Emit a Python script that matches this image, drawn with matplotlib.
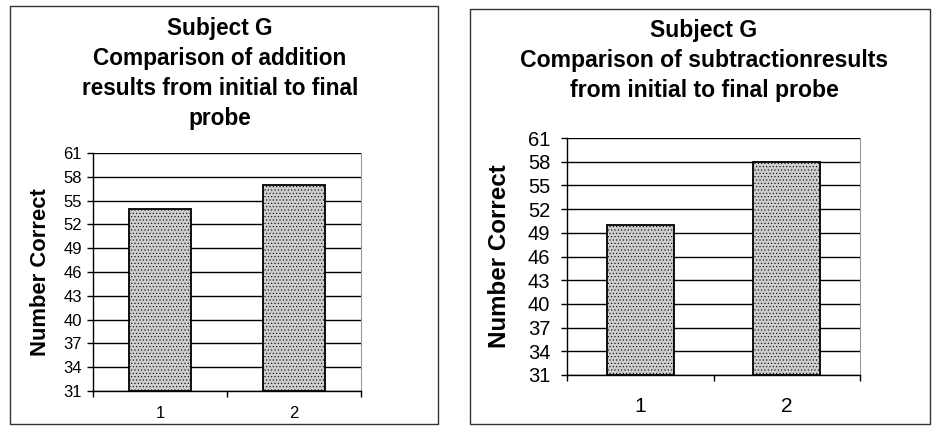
import matplotlib.pyplot as plt
from matplotlib.patches import Rectangle

plt.rcParams['font.family'] = ['Liberation Sans', 'DejaVu Sans']
plt.rcParams['hatch.color'] = '#9a9a9a'
plt.rcParams['hatch.linewidth'] = 0.4

# data
probes = ['1', '2']
addition = [54, 57]
subtraction = [50, 58]
yticks = [31, 34, 37, 40, 43, 46, 49, 52, 55, 58, 61]

W, H = 934, 429
fig = plt.figure(figsize=(W / 100, H / 100), dpi=100)
fig.patch.set_facecolor('white')


def px_axes(x0, y0, x1, y1):
    # pixel box (top-left origin) -> figure axes
    return fig.add_axes([x0 / W, 1 - y1 / H, (x1 - x0) / W, (y1 - y0) / H])


def panel_box(x0, y0, x1, y1):
    fig.add_artist(Rectangle((x0 / W, 1 - y1 / H), (x1 - x0) / W, (y1 - y0) / H,
                             transform=fig.transFigure, fill=False,
                             edgecolor='#333333', lw=1.0))


def draw(ax, values, title, ytick_fs, xtick_fs, xpad, label_fs, title_pos, title_fs, label_x, ypad):
    x = [1, 2]
    ax.set_xlim(0.5, 2.5)
    ax.set_ylim(31, 61)
    ax.set_yticks(yticks)
    ax.yaxis.grid(True, color='black', lw=1.0)
    ax.set_axisbelow(True)
    ax.bar(x, [v - 31 for v in values], bottom=31, width=0.46,
           color='#cdcdcd', edgecolor='black', lw=1.3, hatch='.....', zorder=3)
    ax.set_xticks([0.5, 1.5, 2.5])
    ax.set_xticklabels([])
    ax.set_xticks(x, minor=True)
    ax.set_xticklabels(probes, minor=True, fontsize=xtick_fs)
    ax.tick_params(axis='x', which='minor', length=0, pad=xpad)
    ax.tick_params(axis='x', which='major', length=4, direction='out', width=1)
    ax.tick_params(axis='y', length=4, direction='out', labelsize=ytick_fs, pad=ypad, width=1)
    for s in ['left', 'bottom']:
        ax.spines[s].set_color('black')
        ax.spines[s].set_linewidth(1.0)
    ax.spines['top'].set_visible(False)
    ax.spines['right'].set_color('#999999')
    ax.spines['right'].set_linestyle((0, (2, 1)))
    ax.set_ylabel('Number Correct', fontsize=label_fs, fontweight='bold')
    ax.yaxis.set_label_coords(label_x, 0.5)
    fig.text(title_pos[0] / W, 1 - title_pos[1] / H, title, ha='center', va='top',
             fontsize=title_fs, fontweight='bold', linespacing=1.38)


panel_box(10, 6, 438, 424)
panel_box(470, 9, 930, 424)

ax1 = px_axes(93, 153, 361, 391)
draw(ax1, addition,
     'Subject G\nComparison of addition\nresults from initial to final\nprobe',
     12, 12, 11, 15.8, (220, 17), 16.3, -0.157, 4)

ax2 = px_axes(567, 138, 860, 375)
draw(ax2, subtraction,
     'Subject G\nComparison of subtractionresults\nfrom initial to final probe',
     14.5, 15, 16, 17.4, (704, 19), 16.6, -0.19, 8)

fig.savefig('out.png', dpi=100)
